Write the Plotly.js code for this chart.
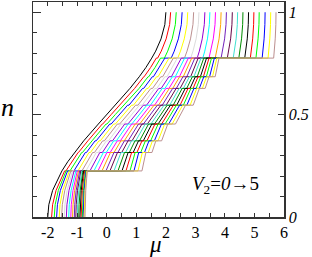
<!DOCTYPE html>
<html><head><meta charset="utf-8">
<script src="https://cdn.plot.ly/plotly-3.0.1.min.js"></script>
<style>html,body{margin:0;padding:0;background:#fff}#c{width:312px;height:257px}</style>
</head><body><div id="c"></div>
<script>
// filling levels n (shared by every curve)
const nLev = [0, 0.06, 0.13, 0.19, 0.225, 0.225, 0.27, 0.315, 0.315, 0.372, 0.372, 0.454, 0.454, 0.5, 0.546, 0.546, 0.628, 0.628, 0.685, 0.685, 0.73, 0.776, 0.776, 0.81, 0.87, 0.94, 1];
// chemical potential mu of each curve at those levels, V2 = 0, 0.25, ... 5
const mu00 = [-2, -1.965, -1.836, -1.654, -1.521, -1.521, -1.323, -1.098, -1.098, -0.783, -0.783, -0.288, -0.288, 0, 0.288, 0.288, 0.783, 0.783, 1.098, 1.098, 1.323, 1.521, 1.521, 1.654, 1.836, 1.965, 2];
const mu01 = [-1.87, -1.837, -1.719, -1.553, -1.43, -1.385, -1.192, -0.973, -0.961, -0.652, -0.641, -0.156, -0.141, 0.145, 0.431, 0.446, 0.931, 0.942, 1.251, 1.263, 1.482, 1.675, 1.72, 1.843, 2.009, 2.127, 2.16];
const mu02 = [-1.78, -1.75, -1.643, -1.492, -1.38, -1.249, -1.062, -0.85, -0.826, -0.523, -0.5, -0.028, 0.003, 0.285, 0.567, 0.598, 1.07, 1.093, 1.396, 1.42, 1.632, 1.819, 1.95, 2.062, 2.213, 2.32, 2.35];
const mu03 = [-1.70, -1.673, -1.573, -1.433, -1.33, -1.114, -0.932, -0.728, -0.691, -0.397, -0.361, 0.100, 0.146, 0.425, 0.704, 0.750, 1.211, 1.247, 1.541, 1.578, 1.782, 1.964, 2.18, 2.283, 2.423, 2.523, 2.55];
const mu04 = [-1.61, -1.585, -1.493, -1.365, -1.27, -0.978, -0.802, -0.605, -0.555, -0.268, -0.222, 0.229, 0.290, 0.565, 0.840, 0.901, 1.352, 1.398, 1.685, 1.735, 1.932, 2.108, 2.40, 2.495, 2.623, 2.715, 2.74];
const mu05 = [-1.53, -1.507, -1.424, -1.306, -1.22, -0.843, -0.673, -0.481, -0.419, -0.140, -0.083, 0.357, 0.434, 0.705, 0.976, 1.053, 1.493, 1.550, 1.829, 1.891, 2.083, 2.253, 2.63, 2.716, 2.834, 2.917, 2.94];
const mu06 = [-1.44, -1.419, -1.344, -1.238, -1.16, -0.707, -0.543, -0.359, -0.285, -0.014, 0.056, 0.481, 0.574, 0.84, 1.106, 1.199, 1.624, 1.694, 1.965, 2.039, 2.223, 2.387, 2.84, 2.918, 3.024, 3.099, 3.12];
const mu07 = [-1.37, -1.351, -1.281, -1.183, -1.11, -0.572, -0.414, -0.238, -0.151, 0.110, 0.192, 0.605, 0.714, 0.975, 1.236, 1.345, 1.758, 1.840, 2.101, 2.188, 2.364, 2.522, 3.06, 3.133, 3.231, 3.301, 3.32];
const mu08 = [-1.29, -1.272, -1.208, -1.117, -1.05, -0.436, -0.285, -0.118, -0.020, 0.232, 0.324, 0.722, 0.845, 1.10, 1.355, 1.478, 1.876, 1.968, 2.220, 2.318, 2.485, 2.636, 3.25, 3.317, 3.408, 3.472, 3.49];
const mu09 = [-1.22, -1.204, -1.145, -1.061, -1.00, -0.301, -0.157, 0.002, 0.112, 0.356, 0.458, 0.843, 0.980, 1.23, 1.480, 1.617, 2.002, 2.104, 2.348, 2.458, 2.617, 2.761, 3.46, 3.521, 3.605, 3.664, 3.68];
const mu10 = [-1.16, -1.145, -1.091, -1.016, -0.96, -0.165, -0.028, 0.122, 0.244, 0.478, 0.592, 0.960, 1.112, 1.355, 1.598, 1.750, 2.118, 2.232, 2.466, 2.588, 2.738, 2.875, 3.67, 3.726, 3.801, 3.855, 3.87];
const mu11 = [-1.10, -1.087, -1.038, -0.970, -0.92, -0.030, 0.099, 0.241, 0.373, 0.596, 0.721, 1.073, 1.239, 1.475, 1.711, 1.877, 2.229, 2.354, 2.577, 2.709, 2.851, 2.980, 3.87, 3.920, 3.988, 4.037, 4.05];
const mu12 = [-1.05, -1.037, -0.992, -0.927, -0.88, 0.106, 0.229, 0.361, 0.505, 0.719, 0.853, 1.191, 1.370, 1.60, 1.830, 2.009, 2.347, 2.481, 2.695, 2.839, 2.971, 3.094, 4.08, 4.127, 4.192, 4.237, 4.25];
const mu13 = [-1.00, -0.989, -0.949, -0.892, -0.85, 0.242, 0.357, 0.481, 0.634, 0.837, 0.980, 1.301, 1.493, 1.715, 1.937, 2.129, 2.450, 2.593, 2.796, 2.949, 3.073, 3.188, 4.28, 4.322, 4.379, 4.419, 4.43];
const mu14 = [-0.95, -0.940, -0.902, -0.849, -0.81, 0.377, 0.485, 0.599, 0.762, 0.955, 1.108, 1.412, 1.615, 1.83, 2.045, 2.248, 2.552, 2.705, 2.898, 3.061, 3.175, 3.283, 4.47, 4.509, 4.562, 4.600, 4.61];
const mu15 = [-0.91, -0.900, -0.865, -0.816, -0.78, 0.513, 0.613, 0.721, 0.892, 1.073, 1.235, 1.523, 1.737, 1.945, 2.153, 2.367, 2.655, 2.817, 2.998, 3.169, 3.277, 3.377, 4.67, 4.706, 4.755, 4.790, 4.80];
const mu16 = [-0.87, -0.861, -0.829, -0.783, -0.75, 0.648, 0.741, 0.839, 1.019, 1.190, 1.359, 1.630, 1.855, 2.055, 2.255, 2.480, 2.751, 2.920, 3.091, 3.271, 3.369, 3.462, 4.86, 4.893, 4.939, 4.971, 4.98];
const mu17 = [-0.83, -0.822, -0.792, -0.751, -0.72, 0.784, 0.870, 0.959, 1.147, 1.307, 1.483, 1.738, 1.973, 2.165, 2.357, 2.592, 2.847, 3.023, 3.183, 3.371, 3.460, 3.546, 5.05, 5.081, 5.122, 5.152, 5.16];
const mu18 = [-0.80, -0.793, -0.766, -0.728, -0.70, 0.919, 0.998, 1.080, 1.276, 1.427, 1.610, 1.850, 2.095, 2.28, 2.465, 2.710, 2.950, 3.133, 3.284, 3.480, 3.562, 3.641, 5.26, 5.288, 5.326, 5.353, 5.36];
const mu19 = [-0.77, -0.763, -0.739, -0.705, -0.68, 1.055, 1.127, 1.201, 1.403, 1.544, 1.735, 1.959, 2.212, 2.39, 2.568, 2.821, 3.045, 3.236, 3.377, 3.579, 3.653, 3.725, 5.46, 5.485, 5.519, 5.543, 5.55];
const mu20 = [-0.74, -0.734, -0.713, -0.682, -0.66, 1.19, 1.255, 1.321, 1.529, 1.660, 1.856, 2.064, 2.325, 2.495, 2.665, 2.926, 3.134, 3.330, 3.461, 3.669, 3.735, 3.800, 5.65, 5.672, 5.703, 5.724, 5.73];
const V2 = [0, 0.25, 0.5, 0.75, 1, 1.25, 1.5, 1.75, 2, 2.25, 2.5, 2.75, 3, 3.25, 3.5, 3.75, 4, 4.25, 4.5, 4.75, 5];
const xTickVals = [-2, -1, 0, 1, 2, 3, 4, 5, 6];
const xTickText = ['-2', '-1', '0', '1', '2', '3', '4', '5', '6'];
const yTickVals = [0, 0.5, 1];
const yTickText = ['0', '0.5', '1'];

const curves = [mu00, mu01, mu02, mu03, mu04, mu05, mu06, mu07, mu08, mu09, mu10, mu11, mu12, mu13, mu14, mu15, mu16, mu17, mu18, mu19, mu20];
const palette = ['#000000', '#ff0000', '#00ff00', '#0000ff', '#ffff00', '#bc8f8f', '#dcdcdc', '#9400d3', '#00ffff', '#ff00ff', '#ffa500', '#7221bc', '#670748', '#40e0d0', '#008b00'];

const serif = 'Liberation Serif';
const traces = curves.map((mu, i) => ({
  x: mu, y: nLev, type: 'scatter', mode: 'lines', name: 'V2=' + V2[i],
  line: {color: palette[i % palette.length], width: 1}, hoverinfo: 'skip'
}));
traces.push({x: [null], y: [null], yaxis: 'y2', type: 'scatter', mode: 'lines', showlegend: false});

const axCol = '#333';
const minorY = {tickmode: 'linear', tick0: 0, dtick: 0.1, ticks: 'inside', ticklen: 4, tickwidth: 1, tickcolor: axCol, showgrid: false};
const layout = {
  width: 312, height: 257,
  margin: {l: 33, r: 28, t: 2, b: 40},
  paper_bgcolor: '#fff', plot_bgcolor: '#fff', showlegend: false,
  font: {family: serif, color: '#000'},
  xaxis: {range: [-2.5, 6], tickmode: 'array', tickvals: xTickVals, ticktext: xTickText,
    ticks: 'inside', ticklen: 4, tickwidth: 1, tickcolor: axCol,
    showline: true, linecolor: axCol, linewidth: 1.5, mirror: 'ticks',
    showgrid: false, zeroline: false, tickfont: {family: serif, size: 16, color: '#000'},
    minor: {tickmode: 'linear', tick0: -2.5, dtick: 0.5, ticks: 'inside', ticklen: 4, tickwidth: 1, tickcolor: axCol, showgrid: false}},
  yaxis: {range: [0, 1.05], tickmode: 'array', tickvals: yTickVals, ticks: 'inside', ticklen: 8,
    tickwidth: 1, tickcolor: axCol, showticklabels: false, showline: true, linecolor: axCol,
    linewidth: 1.5, showgrid: false, zeroline: false, minor: minorY},
  yaxis2: {range: [0, 1.05], overlaying: 'y', side: 'right', tickmode: 'array', tickvals: yTickVals,
    ticktext: yTickText, ticks: 'inside', ticklen: 6, tickwidth: 1, tickcolor: axCol,
    showline: true, linecolor: axCol, linewidth: 1.5, showgrid: false, zeroline: false,
    tickfont: {family: serif, size: 16, color: '#000', style: 'italic'}, minor: minorY},
  annotations: [
    {text: 'n', xref: 'paper', yref: 'paper', x: -0.1, y: 0.51, xanchor: 'center', yanchor: 'middle',
     showarrow: false, font: {family: serif, size: 26, style: 'italic', color: '#000'}},
    {text: 'μ', xref: 'paper', yref: 'paper', x: 0.49, y: -0.128, xanchor: 'center', yanchor: 'middle',
     showarrow: false, font: {family: serif, size: 23, style: 'italic', color: '#000'}},
    {text: '<i>V</i><sub>2</sub>=<i>0</i>→5', xref: 'paper', yref: 'paper', x: 0.765, y: 0.15,
     xanchor: 'center', yanchor: 'middle', showarrow: false, font: {family: serif, size: 19, color: '#000'}}
  ]
};
Plotly.newPlot('c', traces, layout, {staticPlot: true, displayModeBar: false});
</script></body></html>
